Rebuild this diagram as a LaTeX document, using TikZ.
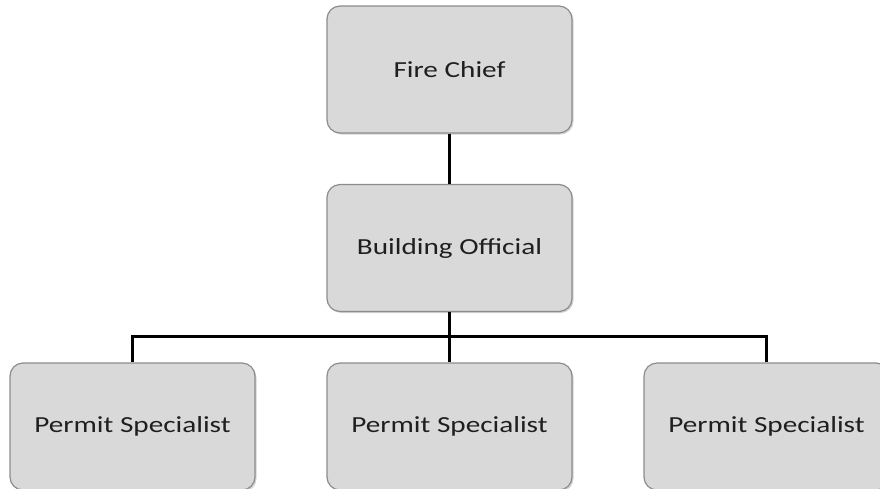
\documentclass[tikz,border=0pt]{standalone}
\usepackage{fontspec}
\setmainfont[FakeStretch=1.27]{Carlito}
\usetikzlibrary{shadows}
\definecolor{boxfill}{HTML}{D9D9D9}
\definecolor{boxline}{HTML}{8C8C8C}
\begin{document}
\begin{tikzpicture}[x=1pt,y=-1pt,
  orgbox/.style={draw=boxline, line width=1.2pt, fill=boxfill, rounded corners=13pt,
    minimum width=245pt, minimum height=127pt, inner sep=0pt,
    font=\fontsize{23}{27}\selectfont, text=black!88,
    drop shadow={shadow xshift=1.5pt, shadow yshift=-1.5pt, opacity=0.35}},
  link/.style={line width=3pt, black}]
  \useasboundingbox (0,0) rectangle (880,488);
  \node[orgbox] (chief) at (449.5,69.5) {Fire Chief};
  \node[orgbox] (official) at (449.5,248) {Building Official};
  \node[orgbox] (ps1) at (132.5,426.5) {Permit Specialist};
  \node[orgbox] (ps2) at (449.5,426.5) {Permit Specialist};
  \node[orgbox] (ps3) at (766.5,426.5) {Permit Specialist};
  \coordinate (bus) at (449.5,336);
  \draw[link] (chief.south) -- (official.north);
  \draw[link] (official.south) -- (ps2.north);
  \draw[link] (ps1.north) |- (bus) -| (ps3.north);
\end{tikzpicture}
\end{document}
